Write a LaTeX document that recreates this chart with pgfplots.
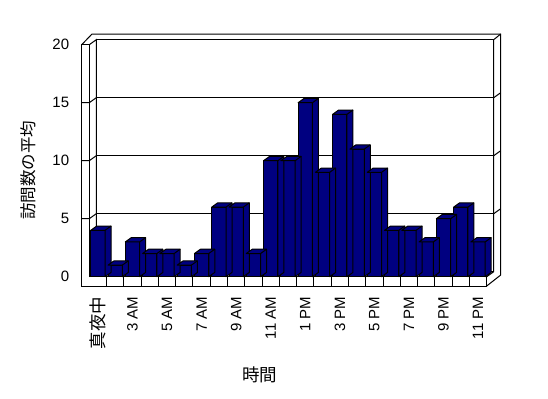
\documentclass[border=0pt]{standalone}
\usepackage{fontspec}
\setmainfont{Liberation Sans}
\newfontfamily\cjk{Noto Sans CJK JP}
\usepackage{pgfplots}
\usepackage{pgfplotstable}
\pgfplotsset{compat=1.18}
\definecolor{navy}{RGB}{0,0,128}
\pgfdeclareplotmark{empty}{}
\pgfplotstableread{
x y
0 4
1 1
2 3
3 2
4 2
5 1
6 2
7 6
8 6
9 2
10 10
11 10
12 15
13 9
14 14
15 11
16 9
17 4
18 4
19 3
20 5
21 6
22 3
}\datatable
\begin{document}
\begin{tikzpicture}[x=1bp,y=1bp,line width=1bp]
\useasboundingbox (0,0) rectangle (548,398);
% 3D frame (walls and floor)
\draw (81.7,353.3) -- (81.7,112) -- (486.7,112) -- (486.7,121.3) -- (89.3,121.3) -- (89.3,353.3) -- cycle;
\draw (81.7,353.3) -- (92,364) -- (500.7,364) -- (500.7,123) -- (486.7,112);
\draw (89.3,121.3) -- (96.3,126.3);
\draw (89.3,353.3) -- (96.3,358.3) -- (96.3,126.3);
\draw (486.7,121.3) -- (493.7,126.3) -- (493.7,358.3) -- (500.7,364);
\foreach \v in {5,10,15} {
  \draw (81.7,121.3+11.6*\v) -- (89.3,121.3+11.6*\v) -- (96.3,126.3+11.6*\v);
  \draw (493.7,126.3+11.6*\v) -- (500.7,131.3+11.6*\v);
}
\foreach \k in {1,...,22} \draw (89.3+17.28*\k,121.3) -- (89.3+17.28*\k,112);
\begin{axis}[
  at={(89.3bp,121.3bp)}, anchor=south west,
  scale only axis, width=397.4bp, height=232bp,
  xmin=-0.5, xmax=22.5, ymin=0, ymax=20,
  axis line style={draw=none},
  tick style={draw=none},
  ytick={0,5,10,15,20},
  xtick={0,2,...,22},
  xticklabels={{\cjk\fontsize{17.5bp}{20bp}\selectfont 真夜中},3 AM,5 AM,7 AM,9 AM,11 AM,1 PM,3 PM,5 PM,7 PM,9 PM,11 PM},
  ymajorgrids,
  grid style={black, line width=1bp, xshift=7bp, yshift=5bp},
  /pgf/number format/assume math mode=true,
  ticklabel style={font=\fontsize{15bp}{18bp}\selectfont, inner sep=0pt},
  xticklabel style={rotate=90, anchor=east},
  xticklabel shift=20bp,
  yticklabel shift=20bp,
  ylabel={\cjk 訪問数の平均},
  xlabel={\cjk 時間},
  every axis y label/.style={at={(axis description cs:0,0.5)}, xshift=-60.8bp, yshift=-9.3bp, rotate=90, anchor=center, font=\fontsize{16.5bp}{19bp}\selectfont},
  every axis x label/.style={at={(axis description cs:0.5,0)}, xshift=-28.5bp, yshift=-98.3bp, anchor=center, font=\fontsize{17.5bp}{20bp}\selectfont},
]
\addplot[scatter, only marks, mark=empty,
  visualization depends on={rawy \as \ry},
  scatter/@pre marker code/.code={%
    \pgfmathsetmacro\hb{4.3-\ry*11.6}%
    \pgfmathsetmacro\hc{-\ry*11.6}%
    \filldraw[fill=navy, draw=black, line width=1bp, line join=round] (-7.15bp,0pt) -- (-1.15bp,4.3bp) -- (13.15bp,4.3bp) -- (13.15bp,\hb bp) -- (7.15bp,\hc bp) -- (7.15bp,0pt) -- cycle;
    \draw[line width=1bp] (7.15bp,0pt) -- (13.15bp,4.3bp);
  },
  scatter/@post marker code/.code={}
] table[x=x,y=y] {\datatable};
\addplot[ybar, bar width=14.3bp, fill=navy, draw=black, line width=1bp] table[x=x,y=y] {\datatable};
\end{axis}
\end{tikzpicture}
\end{document}
